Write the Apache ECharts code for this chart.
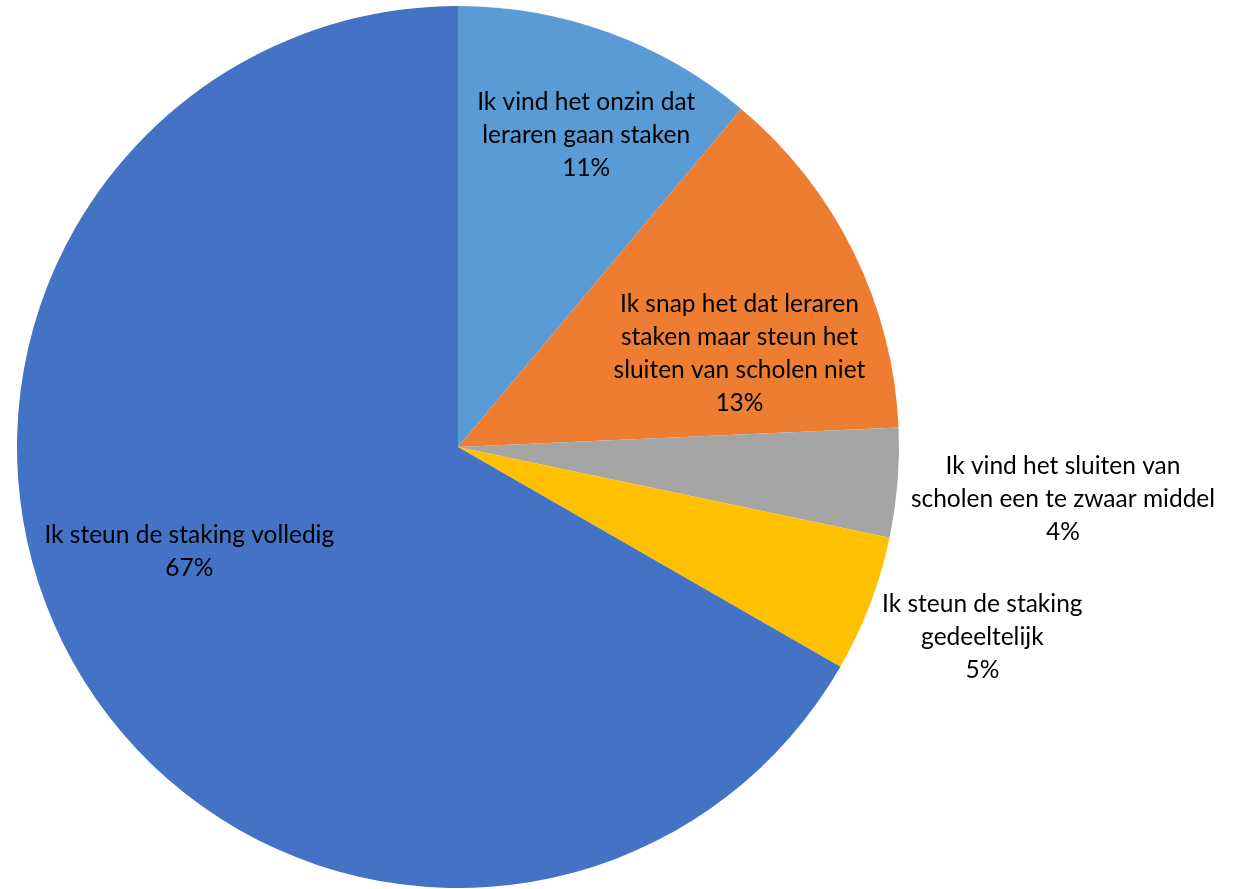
<!DOCTYPE html>
<html>
<head>
<meta charset="utf-8">
<script src="https://cdn.jsdelivr.net/npm/echarts@6/dist/echarts.min.js"></script>
<style>html,body{margin:0;padding:0;background:#fff;}#c{width:1236px;height:889px;}</style>
</head>
<body>
<div id="c"></div>
<script>
// Data
const categories = [
  'Ik vind het onzin dat leraren gaan staken',
  'Ik snap het dat leraren staken maar steun het sluiten van scholen niet',
  'Ik vind het sluiten van scholen een te zwaar middel',
  'Ik steun de staking gedeeltelijk',
  'Ik steun de staking volledig'
];
const labelTexts = [
  'Ik vind het onzin dat\nleraren gaan staken',
  'Ik snap het dat leraren\nstaken maar steun het\nsluiten van scholen niet',
  'Ik vind het sluiten van\nscholen een te zwaar middel',
  'Ik steun de staking\ngedeeltelijk',
  'Ik steun de staking volledig'
];
const values = [11.1, 13.2, 4.0, 5.0, 66.7];
const colors = ['#5B9BD5', '#ED7D31', '#A5A5A5', '#FFC000', '#4472C4'];

// label placement: distance from centre along slice mid-angle, plus small nudge
const dist = [340, 293, 604, 555, 282];
const nudge = [[11, 10], [16, 38], [0, 3], [3, -9], [-22, -38]];

const CX = 458, CY = 447, R = 441;
const font = 'Lato, "Open Sans", sans-serif';

const baseData = categories.map((c, i) => ({ name: c, value: values[i], itemStyle: { color: colors[i] } }));

const series = [{
  type: 'pie',
  center: [CX, CY],
  radius: [0, R],
  startAngle: 90,
  clockwise: true,
  silent: true,
  animation: false,
  label: { show: false },
  labelLine: { show: false },
  itemStyle: { borderWidth: 0 },
  data: baseData
}];

categories.forEach((c, i) => {
  series.push({
    type: 'pie',
    center: [CX, CY],
    radius: [0, dist[i] * 2],
    startAngle: 90,
    clockwise: true,
    silent: true,
    animation: false,
    z: 5,
    itemStyle: { color: 'rgba(0,0,0,0)', borderWidth: 0 },
    emphasis: { disabled: true },
    labelLine: { show: false },
    labelLayout: { dx: nudge[i][0], dy: nudge[i][1] },
    label: { show: false },
    data: categories.map((cc, j) => ({
      name: cc,
      value: values[j],
      label: j === i ? {
        show: true,
        position: 'inside',
        rotate: 0,
        overflow: 'none',
        color: '#000',
        fontFamily: font,
        fontSize: 24.5,
        lineHeight: 33,
        formatter: (p) => labelTexts[p.dataIndex] + '\n' + Math.round(p.percent) + '%'
      } : { show: false }
    }))
  });
});

const chart = echarts.init(document.getElementById('c'));
chart.setOption({
  backgroundColor: '#fff',
  animation: false,
  series: series
});
</script>
</body>
</html>
